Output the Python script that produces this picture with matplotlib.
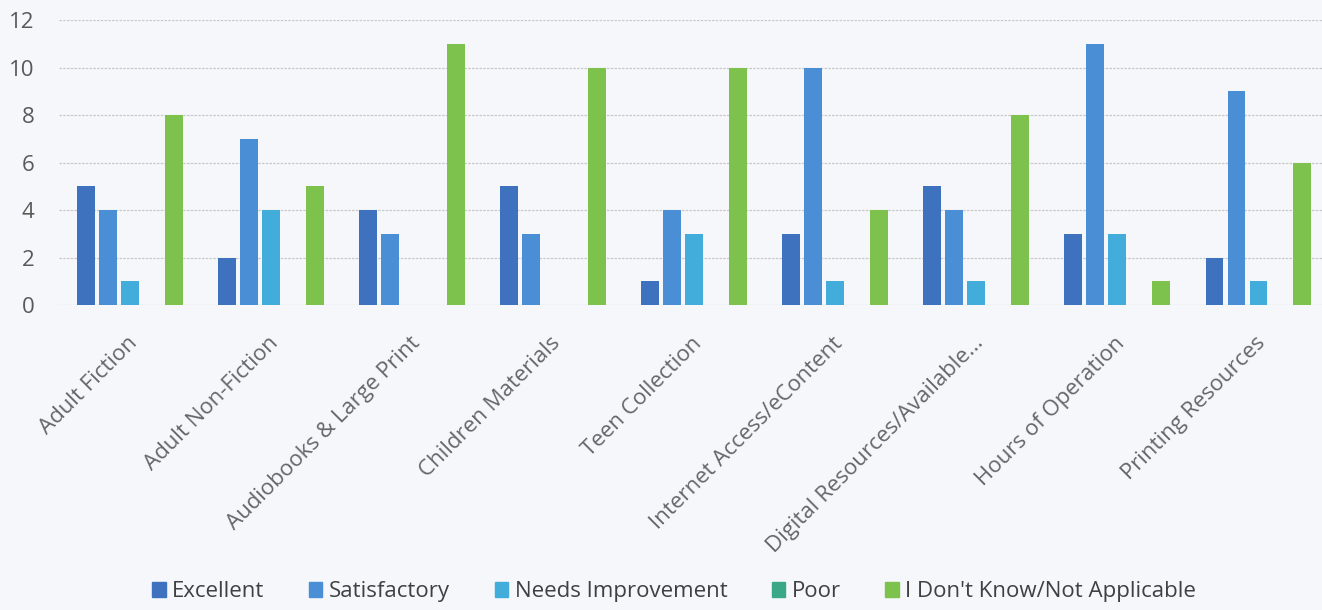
import numpy as np
import matplotlib.pyplot as plt
from matplotlib.patches import Patch

categories = ['Adult Fiction', 'Adult Non-Fiction', 'Audiobooks & Large Print',
              'Children Materials', 'Teen Collection', 'Internet Access/eContent',
              'Digital Resources/Available...', 'Hours of Operation', 'Printing Resources']
series_names = ['Excellent', 'Satisfactory', 'Needs Improvement', 'Poor',
                "I Don't Know/Not Applicable"]
excellent = [5, 2, 4, 5, 1, 3, 5, 3, 2]
satisfactory = [4, 7, 3, 3, 4, 10, 4, 11, 9]
needs_improvement = [1, 4, 0, 0, 3, 1, 1, 3, 1]
poor = [0, 0, 0, 0, 0, 0, 0, 0, 0]
dont_know = [8, 5, 11, 10, 10, 4, 8, 1, 6]
colors = ['#3e72bf', '#4a8fd6', '#42addb', '#3aa885', '#7cc24c']

plt.rcParams['font.family'] = ['Open Sans', 'DejaVu Sans']

fig = plt.figure(figsize=(13.22, 6.10), dpi=100, facecolor='#f5f7fb')
ax = fig.add_axes([0.045, 0.5, 0.96, 0.467])
ax.set_facecolor('#f5f7fb')

x = np.arange(len(categories))
step = 0.156
width = 0.122
for i, vals in enumerate([excellent, satisfactory, needs_improvement, poor, dont_know]):
    ax.bar(x + (i - 2) * step, vals, width, color=colors[i], zorder=3)

ax.set_xlim(-0.5, len(categories) - 0.5)
ax.set_ylim(0, 12)
ax.set_yticks(range(0, 13, 2))
ax.grid(axis='y', color='#c8c8c8', linestyle=(0, (2, 1)), linewidth=0.9, zorder=0)
for s in ax.spines.values():
    s.set_visible(False)
ax.tick_params(axis='y', length=0, labelsize=16, labelcolor='#595959', pad=18)
ax.set_xticks(x - 0.02)
ax.set_xticklabels(categories, rotation=45, ha='right', rotation_mode='anchor')
ax.tick_params(axis='x', length=0, labelsize=16, labelcolor='#666666', pad=20)

handles = [Patch(color=c) for c in colors]
fig.legend(handles, series_names, loc='center', bbox_to_anchor=(0.51, 0.03), ncol=5,
           frameon=False, fontsize=16, labelcolor='#404040', handlelength=0.6,
           handleheight=0.7, handletextpad=0.3, columnspacing=2.0)

fig.savefig('out.png', dpi=100, facecolor=fig.get_facecolor())
